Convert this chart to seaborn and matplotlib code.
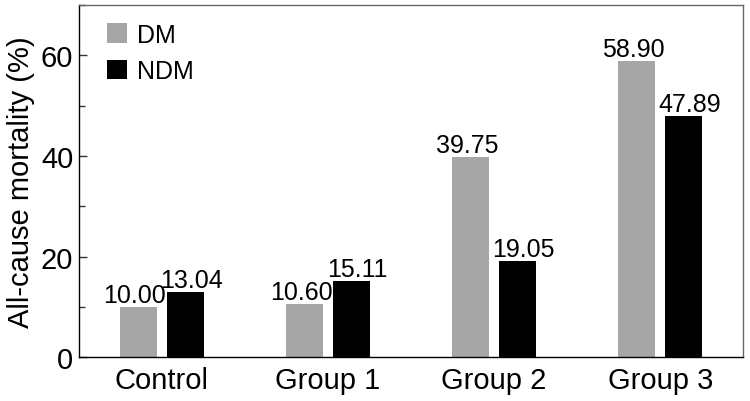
import matplotlib
matplotlib.use('Agg')
import matplotlib.pyplot as plt
import seaborn as sns
import pandas as pd
from matplotlib.ticker import MultipleLocator

# Data
groups = ['Control', 'Group 1', 'Group 2', 'Group 3']
dm_values = [10.00, 10.60, 39.75, 58.90]
ndm_values = [13.04, 15.11, 19.05, 47.89]
series = ['DM', 'NDM']
colors = ['#a6a6a6', '#000000']

df = pd.DataFrame({
    'group': groups * 2,
    'series': ['DM'] * len(groups) + ['NDM'] * len(groups),
    'value': dm_values + ndm_values,
})

sns.set_style('white')
plt.rcParams['font.family'] = ['Liberation Sans', 'DejaVu Sans']
plt.rcParams['text.color'] = 'black'
plt.rcParams['axes.labelcolor'] = 'black'
plt.rcParams['xtick.color'] = 'black'
plt.rcParams['ytick.color'] = 'black'

fig = plt.figure(figsize=(7.5, 4.02), dpi=100)
ax = fig.add_axes([0.105, 0.109, 0.886, 0.876])

sns.barplot(data=df, x='group', y='value', hue='series', order=groups,
            hue_order=series, palette=colors, width=0.566, gap=0.21,
            saturation=1, linewidth=0, ax=ax)

# value labels; DM pushed a little left, NDM a little right (as in the original)
shifts = [-2.5, 4.5]
for container, dx in zip(ax.containers, shifts):
    for bar in container:
        h = bar.get_height()
        ax.annotate(f'{h:.2f}', (bar.get_x() + bar.get_width() / 2, h),
                    xytext=(dx, 0), textcoords='offset points',
                    ha='center', va='bottom', fontsize=18)

ax.set_xlim(-0.5, 3.5)
ax.set_ylim(0, 70)
ax.yaxis.set_major_locator(MultipleLocator(20))
ax.yaxis.set_minor_locator(MultipleLocator(10))
ax.tick_params(axis='y', which='major', direction='in', length=6, width=1,
               labelsize=21, left=True, color='#333333', pad=4)
ax.tick_params(axis='y', which='minor', direction='in', length=4, width=1,
               left=True, color='#333333')
ax.tick_params(axis='x', length=0, labelsize=21, pad=6)
ax.set_xlabel('')
ax.set_ylabel('All-cause mortality (%)', fontsize=21, labelpad=4)

for side in ['top', 'right']:
    ax.spines[side].set_color('#666666')
for side in ['left', 'bottom']:
    ax.spines[side].set_color('#000000')
for sp in ax.spines.values():
    sp.set_linewidth(1)

leg = ax.legend(loc='upper left', frameon=False, fontsize=18,
                handlelength=0.8, handleheight=0.8, handletextpad=0.4,
                labelspacing=0.5, borderaxespad=0, borderpad=0,
                bbox_to_anchor=(0.043, 0.95))

fig.savefig('out.png', dpi=100)
